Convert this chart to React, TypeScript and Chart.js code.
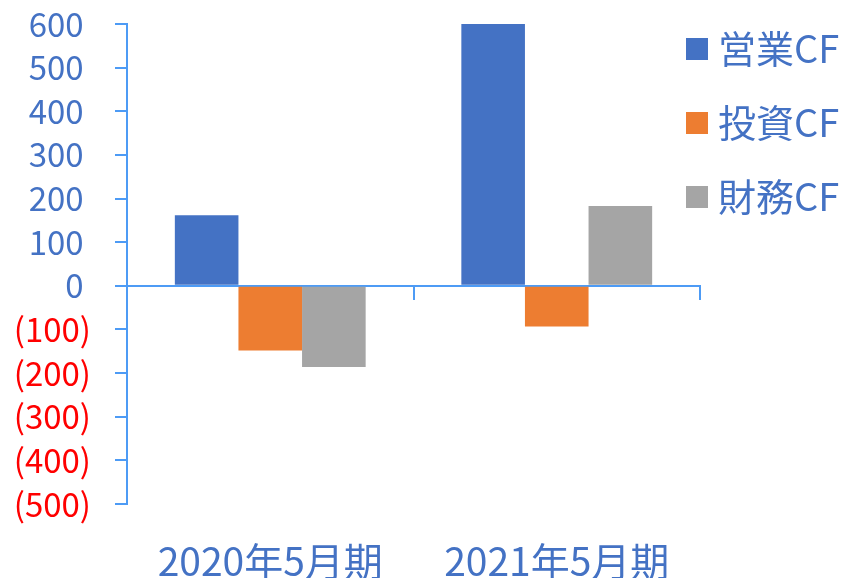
import React, { useEffect, useRef } from "react";
import { Chart, registerables } from "chart.js";

Chart.register(...registerables);

const categories = ["2020年5月期", "2021年5月期"];
const seriesNames = ["営業CF", "投資CF", "財務CF"];
const operatingCF = [162, 600];
const investingCF = [-148, -93];
const financingCF = [-186, 183];
const yMin = -500;
const yMax = 600;
const yStep = 100;

const seriesColors = ["#4472C4", "#ED7D31", "#A5A5A5"];
const axisColor = "#4D9BF5";
const textBlue = "#4472C4";
const negRed = "#FF0000";
const FONT = "'Noto Sans CJK JP', 'Noto Sans', sans-serif";

function makeBox(color: string) {
  const c = document.createElement("canvas");
  c.width = 22;
  c.height = 22;
  const g = c.getContext("2d")!;
  g.fillStyle = color;
  g.fillRect(0, 0, 22, 22);
  return c;
}

export default function App() {
  const ref = useRef<HTMLCanvasElement | null>(null);

  useEffect(() => {
    if (!ref.current) return;
    const boxes = seriesColors.map(makeBox);
    const legendPad = 36;

    const legendPlace = {
      id: "legendPlace",
      afterLayout(chart: any) {
        const l = chart.legend;
        if (!l) return;
        const ca = chart.chartArea;
        l.left = ca.right - 5 - legendPad;
        l.right = chart.width;
        l.top = ca.top + 6 - legendPad;
        l.bottom = chart.height;
        l.width = l.right - l.left;
        l.height = l.bottom - l.top;
      },
    };

    const chart = new Chart(ref.current, {
      type: "bar",
      data: {
        labels: categories,
        datasets: [operatingCF, investingCF, financingCF].map((d, i) => ({
          label: seriesNames[i],
          data: d,
          backgroundColor: seriesColors[i],
          borderWidth: 0,
          categoryPercentage: 0.666,
          barPercentage: 1,
          xAxisID: "x",
        })),
      },
      options: {
        animation: false,
        responsive: true,
        maintainAspectRatio: false,
        layout: { padding: { left: 0, right: 142, top: 24, bottom: 0 } },
        font: { family: FONT },
        plugins: {
          tooltip: { enabled: false },
          legend: {
            position: "chartArea",
            align: "start",
            labels: {
              usePointStyle: true,
              pointStyleWidth: 4,
              padding: legendPad,
              color: textBlue,
              font: { family: FONT, size: 38 },
              generateLabels: (ch: any) => {
                const items = (Chart.defaults.plugins.legend.labels as any).generateLabels(ch);
                return items.map((it: any, i: number) => ({ ...it, pointStyle: boxes[i] }));
              },
            },
          },
        },
        scales: {
          x: {
            type: "category",
            position: "bottom",
            offset: true,
            grid: { display: false, drawTicks: false },
            border: { display: false },
            ticks: {
              color: textBlue,
              font: { family: FONT, size: 39 },
              padding: 34,
              maxRotation: 0,
              autoSkip: false,
            },
            afterFit: (s: any) => {
              s.height = 74;
            },
          },
          x2: {
            type: "category",
            position: { y: 0 } as any,
            offset: true,
            grid: {
              offset: true,
              drawOnChartArea: false,
              drawTicks: true,
              tickLength: 13,
              color: axisColor,
              lineWidth: 2,
            },
            border: { display: true, color: axisColor, width: 2 },
            ticks: { display: false },
          },
          y: {
            type: "linear",
            position: "left",
            min: yMin,
            max: yMax,
            ticks: {
              stepSize: yStep,
              autoSkip: false,
              padding: 24,
              font: { family: FONT, size: 33 },
              color: (ctx: any) => (ctx.tick && ctx.tick.value < 0 ? negRed : textBlue),
              callback: (v: any) => {
                const n = Number(v);
                return n < 0 ? `(${Math.abs(n)})` : `${n}\u00A0`;
              },
            },
            grid: {
              drawOnChartArea: false,
              drawTicks: true,
              tickLength: 12,
              color: axisColor,
              lineWidth: 2,
            },
            border: { display: true, color: axisColor, width: 2 },
            afterFit: (s: any) => {
              s.width = 127;
              s.paddingTop = 0;
              s.paddingBottom = 0;
            },
          },
        },
      } as any,
      plugins: [legendPlace],
    });

    return () => chart.destroy();
  }, []);

  return (
    <div style={{ position: "fixed", left: 0, top: 0, width: 842, height: 578, background: "#fff" }}>
      <canvas ref={ref} />
    </div>
  );
}
